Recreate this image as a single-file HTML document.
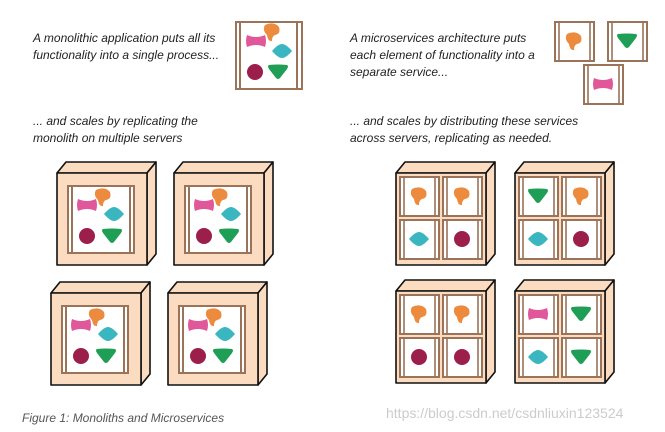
<!DOCTYPE html>
<html><head><meta charset="utf-8"><style>
body{margin:0;background:#fff;width:665px;height:432px;overflow:hidden}
svg{display:block}
text{font-family:"Liberation Sans",sans-serif;font-style:italic;font-size:12px;fill:#222}
</style></head><body>
<svg width="665" height="432" viewBox="0 0 665 432" xmlns="http://www.w3.org/2000/svg">
<defs>
<path id="pk" d="M-9,-6 Q0,-2 9,-6 Q11,0 9,6 Q0,2 -9,6 Q-11,0 -9,-6Z" fill="#e0589a"/>
<path id="or" d="M-7,-7 Q2,-11 7,-5 Q9,2 3,3 Q0,4 0,9 Q-4,10 -5,3 Q-10,-2 -7,-7Z" fill="#ec8a3e"/>
<path id="tl" d="M-10,0 Q-4,-7 0,-7 Q4,-7 10,0 Q4,7 0,7 Q-4,7 -10,0Z" fill="#3ab6c0"/>
<circle id="mr" r="8" fill="#9c1f4b"/>
<path id="gr" d="M-9,-7 Q0,-8 9,-7 Q11,-6 9,-3 L2,6 Q0,8 -2,6 L-9,-3 Q-11,-6 -9,-7Z" fill="#1f9e56"/>
<g id="box" stroke="#111" stroke-width="1.6" stroke-linejoin="round" fill="#fbdcc0">
<path d="M0,0 L9,-11 L99,-11 L90,0Z"/>
<path d="M90,0 L99,-11 L99,81 L90,92Z"/>
<rect x="0" y="0" width="90" height="92"/>
</g>
<g id="mono">
<use href="#box"/>
<rect x="11" y="13" width="66" height="67" fill="#fff" stroke="#9b7359" stroke-width="2"/>
<path d="M15,13V80M73,13V80" stroke="#9b7359" stroke-width="2"/>
<use href="#pk" x="30" y="32"/><use href="#or" x="46" y="24"/><use href="#tl" x="57" y="41"/>
<use href="#mr" x="30" y="63"/><use href="#gr" x="55" y="63"/>
</g>
<g id="pane">
<rect x="0" y="0" width="39" height="39" fill="#fff" stroke="#9b7359" stroke-width="2"/>
<path d="M4,0V39M35,0V39" stroke="#9b7359" stroke-width="1.6"/>
</g>
</defs>

<text x="33" y="42">A monolithic application puts all its</text>
<text x="33" y="59">functionality into a single process...</text>
<text x="33" y="125">... and scales by replicating the</text>
<text x="33" y="142">monolith on multiple servers</text>
<text x="350" y="42">A microservices architecture puts</text>
<text x="350" y="59">each element of functionality into a</text>
<text x="350" y="76">separate service...</text>
<text x="350" y="125">... and scales by distributing these services</text>
<text x="350" y="142">across servers, replicating as needed.</text>
<text x="22" y="422" style="fill:#555">Figure 1: Monoliths and Microservices</text>
<text x="386" y="418" style="font-style:normal;font-size:14px;fill:#ccc">https://blog.csdn.net/csdnliuxin123524</text>

<rect x="236" y="22" width="66" height="67" fill="#fff" stroke="#9b7359" stroke-width="2"/>
<path d="M240,22V89M297,22V89" stroke="#9b7359" stroke-width="2"/>
<use href="#pk" x="256" y="41"/><use href="#or" x="272" y="32"/><use href="#tl" x="282" y="51"/>
<use href="#mr" x="255" y="72"/><use href="#gr" x="278" y="72"/>

<use href="#pane" x="555" y="22"/><use href="#or" x="574" y="41"/>
<use href="#pane" x="608" y="22"/><use href="#gr" x="627" y="41"/>
<use href="#pane" x="584" y="65"/><use href="#pk" x="603" y="84"/>

<use href="#mono" x="57" y="173"/>
<use href="#mono" x="174" y="173"/>
<use href="#mono" x="51" y="293"/>
<use href="#mono" x="168" y="293"/>

<g transform="translate(396,173)">
<use href="#box"/>
<use href="#pane" x="4" y="4"/><use href="#pane" x="47" y="4"/>
<use href="#pane" x="4" y="47"/><use href="#pane" x="47" y="47"/>
<use href="#or" x="23" y="23"/><use href="#or" x="66" y="23"/>
<use href="#tl" x="23" y="66"/><use href="#mr" x="66" y="66"/>
</g>
<g transform="translate(515,173)">
<use href="#box"/>
<use href="#pane" x="4" y="4"/><use href="#pane" x="47" y="4"/>
<use href="#pane" x="4" y="47"/><use href="#pane" x="47" y="47"/>
<use href="#gr" x="23" y="23"/><use href="#or" x="66" y="23"/>
<use href="#tl" x="23" y="66"/><use href="#mr" x="66" y="66"/>
</g>
<g transform="translate(396,291)">
<use href="#box"/>
<use href="#pane" x="4" y="4"/><use href="#pane" x="47" y="4"/>
<use href="#pane" x="4" y="47"/><use href="#pane" x="47" y="47"/>
<use href="#or" x="23" y="23"/><use href="#or" x="66" y="23"/>
<use href="#mr" x="23" y="66"/><use href="#mr" x="66" y="66"/>
</g>
<g transform="translate(515,291)">
<use href="#box"/>
<use href="#pane" x="4" y="4"/><use href="#pane" x="47" y="4"/>
<use href="#pane" x="4" y="47"/><use href="#pane" x="47" y="47"/>
<use href="#pk" x="23" y="23"/><use href="#gr" x="66" y="23"/>
<use href="#tl" x="23" y="66"/><use href="#gr" x="66" y="66"/>
</g>
</svg>
</body></html>
